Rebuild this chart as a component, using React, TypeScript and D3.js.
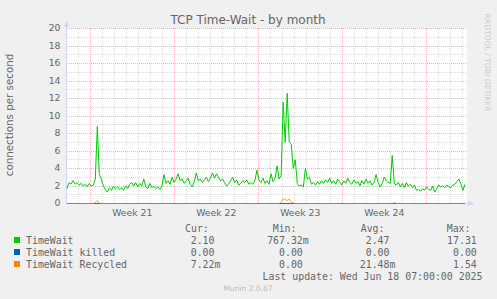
import React from "react";
import * as d3 from "d3";

const TITLE = "TCP Time-Wait - by month";
const Y_LABEL = "connections per second";
const WATERMARK = "RRDTOOL / TOBI OETIKER";
const FOOTER = "Munin 2.0.67";
const LAST_UPDATE = "Last update: Wed Jun 18 07:00:00 2025";

const START = Date.UTC(2025, 4, 17, 1, 24);
const SPAN_HOURS = 800;
const Y_MAX = 20;
const Y_TICKS = [0, 2, 4, 6, 8, 10, 12, 14, 16, 18, 20];

const timeWait = [
  1.7, 2.4, 2.2, 2.6, 2.2, 2.4, 2.1, 2.3, 2.0, 2.2,
  1.9, 2.3, 2.0, 2.1, 2.8, 8.8, 3.3, 2.8, 2.0, 1.6,
  1.3, 1.8, 1.5, 2.0, 1.7, 1.9, 1.6, 1.8, 1.5, 2.0,
  1.7, 2.2, 2.4, 2.0, 2.4, 1.9, 2.3, 2.0, 2.8, 1.9,
  1.7, 2.3, 1.8, 2.0, 1.7, 1.9, 1.6, 2.0, 3.3, 2.3,
  2.6, 2.2, 3.0, 2.4, 2.8, 3.4, 2.6, 2.8, 2.3, 2.6,
  2.9, 2.2, 1.9, 2.5, 3.5, 2.6, 2.8, 2.4, 2.7, 3.0,
  2.5, 2.9, 3.5, 2.9, 3.4, 3.0, 2.6, 2.8, 2.4, 2.0,
  2.2, 2.6, 3.0, 2.4, 2.7, 2.1, 2.3, 2.6, 2.4, 2.7,
  2.2, 2.4, 2.2, 2.6, 3.8, 2.7, 2.4, 2.9, 2.3, 2.6,
  2.2, 3.4, 2.5, 2.9, 4.3, 2.8, 3.2, 11.6, 7.0, 12.6,
  7.0, 6.8, 4.0, 5.0, 2.3, 2.0, 2.1, 1.9, 4.0, 2.8,
  3.0, 2.2, 2.4, 2.1, 2.5, 2.2, 2.6, 2.3, 2.7, 2.4,
  2.9, 2.3, 2.6, 2.2, 2.8, 2.5, 2.1, 2.6, 2.3, 2.9,
  2.4, 2.2, 2.7, 2.3, 2.5, 2.0, 2.6, 2.2, 2.8, 2.3,
  2.6, 2.1, 2.4, 3.3, 2.4, 1.9, 2.3, 3.0, 2.6, 2.4,
  2.3, 5.5, 2.3, 2.1, 2.4, 1.9, 2.3, 1.8, 2.4, 2.0,
  2.2, 1.8, 2.1, 1.5, 1.6, 1.4, 1.7, 1.5, 1.9, 1.6,
  1.5, 2.0, 1.3, 1.7, 2.1, 1.9, 2.0, 1.8, 2.1, 1.9,
  1.8, 2.1, 2.2, 2.5, 2.8, 2.2, 1.5, 2.2,
];

const timeWaitKilled = [
  0, 0, 0, 0, 0, 0, 0, 0, 0, 0, 0, 0, 0, 0, 0, 0, 0, 0, 0, 0,
  0, 0, 0, 0, 0, 0, 0, 0, 0, 0, 0, 0, 0, 0, 0, 0, 0, 0, 0, 0,
  0, 0, 0, 0, 0, 0, 0, 0, 0, 0, 0, 0, 0, 0, 0, 0, 0, 0, 0, 0,
  0, 0, 0, 0, 0, 0, 0, 0, 0, 0, 0, 0, 0, 0, 0, 0, 0, 0, 0, 0,
  0, 0, 0, 0, 0, 0, 0, 0, 0, 0, 0, 0, 0, 0, 0, 0, 0, 0, 0, 0,
  0, 0, 0, 0, 0, 0, 0, 0, 0, 0, 0, 0, 0, 0, 0, 0, 0, 0, 0, 0,
  0, 0, 0, 0, 0, 0, 0, 0, 0, 0, 0, 0, 0, 0, 0, 0, 0, 0, 0, 0,
  0, 0, 0, 0, 0, 0, 0, 0, 0, 0, 0, 0, 0, 0, 0, 0, 0, 0, 0, 0,
  0, 0, 0, 0, 0, 0, 0, 0, 0, 0, 0, 0, 0, 0, 0, 0, 0, 0, 0, 0,
  0, 0, 0, 0, 0, 0, 0, 0, 0, 0, 0, 0, 0, 0, 0, 0, 0, 0,
];

const timeWaitRecycled = [
  0, 0, 0, 0, 0, 0, 0, 0, 0, 0, 0, 0, 0, 0, 0.1, 0.35, 0.05, 0, 0, 0,
  0, 0, 0, 0, 0, 0, 0, 0, 0, 0, 0, 0, 0, 0, 0, 0, 0, 0, 0, 0,
  0, 0, 0, 0, 0, 0, 0, 0, 0, 0, 0, 0, 0, 0, 0, 0, 0, 0, 0, 0,
  0, 0, 0, 0, 0, 0, 0, 0, 0, 0, 0, 0, 0, 0, 0, 0, 0, 0, 0, 0,
  0, 0, 0, 0, 0, 0, 0, 0, 0, 0, 0, 0, 0, 0, 0, 0, 0, 0, 0, 0,
  0, 0, 0, 0, 0, 0, 0.2, 0.55, 0.45, 0.35, 0.5, 0.2, 0.05, 0, 0, 0, 0, 0, 0, 0,
  0, 0, 0, 0, 0, 0, 0, 0, 0, 0, 0, 0, 0, 0, 0, 0, 0, 0, 0, 0,
  0, 0, 0, 0, 0, 0, 0, 0, 0, 0, 0, 0, 0, 0, 0, 0, 0, 0, 0, 0,
  0, 0, 0.1, 0, 0, 0, 0, 0, 0, 0, 0, 0, 0, 0, 0, 0, 0, 0, 0, 0,
  0, 0, 0, 0, 0, 0, 0, 0, 0, 0, 0, 0, 0, 0, 0, 0, 0, 0,
];

const seriesNames = ["TimeWait", "TimeWait killed", "TimeWait Recycled"];
const seriesColors = ["#00CC00", "#0066B3", "#FF8000"];
const legendCur = [["2.10", ""], ["0.00", ""], ["7.22", "m"]];
const legendMin = [["767.32", "m"], ["0.00", ""], ["0.00", ""]];
const legendAvg = [["2.47", ""], ["0.00", ""], ["21.48", "m"]];
const legendMax = [["17.31", ""], ["0.00", ""], ["1.54", ""]];
const legendHeaders = ["Cur:", "Min:", "Avg:", "Max:"];

export default function App() {
  const W = 497, H = 299;
  const left = 67, right = 467, top = 28, bottom = 203;
  const end = START + SPAN_HOURS * 3600000;
  const x = d3.scaleUtc().domain([new Date(START), new Date(end)]).range([left, right]);
  const y = d3.scaleLinear().domain([0, Y_MAX]).range([bottom, top]);
  const yLine = d3.scaleLinear().domain([0, Y_MAX]).range([bottom + 0.5, top + 0.5]);
  const step = (end - START) / timeWait.length;
  const t = (i: number) => new Date(START + i * step);
  const line = d3.line<number>().x((_, i) => x(t(i))).y((d) => yLine(d));

  const days = d3.utcDay.range(new Date(START), new Date(end));
  const mondays = d3.utcMonday.range(new Date(START), new Date(end));
  const weekLabels = mondays
    .map((m) => new Date(m.getTime() + 3.5 * 86400000))
    .filter((c) => c.getTime() > START && c.getTime() < end);
  const fmtWeek = d3.utcFormat("%V");
  const minorY = d3.range(1, Y_MAX + 1).filter((v) => v % 2 === 1);
  const majorY = Y_TICKS.filter((v) => v > 0);

  const axisColor = "#CFD6F8";
  const minorColor = "#DCDCDC";
  const majorColor = "#F2B3BE";
  const font = "'DejaVu Sans', sans-serif";
  const mono = "'DejaVu Sans Mono', monospace";
  const textColor = "#666666";

  const colEnds = [214.5, 302.8, 389.5, 476.8];
  const colHeadX = [185, 272.7, 360.7, 446.7];
  const cols = [legendCur, legendMin, legendAvg, legendMax];
  const rowY = [243.5, 255.5, 267.5];

  return (
    <svg width={W} height={H} style={{ position: "absolute", left: 0, top: 0, display: "block" }}>
      <rect x={0} y={0} width={W} height={H} fill="#F0F0F0" />
      <rect x={left} y={top} width={right - left} height={bottom - top} fill="#FFFFFF" />
      <g shapeRendering="crispEdges" strokeDasharray="1,1">
        {minorY.map((v) => (
          <line key={"my" + v} x1={left} x2={right} y1={Math.round(y(v)) + 0.5} y2={Math.round(y(v)) + 0.5} stroke={minorColor} />
        ))}
        {days.filter((d) => d.getUTCDay() !== 1).map((d) => (
          <line key={"dx" + d.getTime()} x1={Math.round(x(d)) + 0.5} x2={Math.round(x(d)) + 0.5} y1={top} y2={bottom} stroke={minorColor} />
        ))}
        {majorY.map((v) => (
          <line key={"My" + v} x1={left} x2={right} y1={Math.round(y(v)) + 0.5} y2={Math.round(y(v)) + 0.5} stroke={majorColor} />
        ))}
        {mondays.map((d) => (
          <line key={"wx" + d.getTime()} x1={Math.round(x(d)) + 0.5} x2={Math.round(x(d)) + 0.5} y1={top} y2={bottom} stroke={majorColor} />
        ))}
      </g>
      {/* axes */}
      <line x1={66.5} x2={66.5} y1={bottom + 0.5} y2={24} stroke={axisColor} />
      <path d="M64,27 L69,27 L66.5,20.5 Z" fill={axisColor} />
      <line x1={66} x2={469} y1={bottom + 0.5} y2={bottom + 0.5} stroke={axisColor} />
      <path d="M468,201 L468,206 L474.5,203.5 Z" fill={axisColor} />
      {/* series */}
      <path d={line(timeWait) || ""} fill="none" stroke={seriesColors[0]} strokeWidth={1} />
      <path d={line(timeWaitKilled) || ""} fill="none" stroke={seriesColors[1]} strokeWidth={1} />
      <path d={line(timeWaitRecycled) || ""} fill="none" stroke={seriesColors[2]} strokeWidth={1} strokeOpacity={0.75} />
      {/* y ticks */}
      <g fontFamily={font} fontSize={9.3} fill={textColor} textAnchor="end">
        {Y_TICKS.map((v) => (
          <text key={"yt" + v} x={60.5} y={y(v) + 3.4}>{v}</text>
        ))}
      </g>
      {/* x labels */}
      <g fontFamily={font} fontSize={9.3} fill={textColor} textAnchor="middle">
        {weekLabels.map((c) => (
          <text key={"wl" + c.getTime()} x={x(c)} y={216}>{"Week " + fmtWeek(c)}</text>
        ))}
      </g>
      <text x={248} y={23.5} fontFamily={font} fontSize={12} fill={textColor} textAnchor="middle">{TITLE}</text>
      <text transform="translate(13,115) rotate(-90)" fontFamily={font} fontSize={10.3} fill={textColor} textAnchor="middle">{Y_LABEL}</text>
      <text transform="translate(485,62.5) rotate(90)" fontFamily={font} fontSize={7.6} fill="#CDCDCD" textAnchor="middle">{WATERMARK}</text>
      {/* legend */}
      <g fontFamily={mono} fontSize={9.9} fill={textColor}>
        {legendHeaders.map((h, j) => (
          <text key={"h" + j} x={colHeadX[j]} y={231.5}>{h}</text>
        ))}
        {seriesNames.map((n, i) => (
          <g key={"s" + i}>
            <rect x={14} y={rowY[i] - 6.5} width={6} height={6} fill={seriesColors[i]} />
            <text x={26} y={rowY[i]}>{n}</text>
            {cols.map((col, j) => (
              <g key={"c" + j}>
                <text x={colEnds[j]} y={rowY[i]} textAnchor="end">{col[i][0]}</text>
                {col[i][1] ? <text x={colEnds[j]} y={rowY[i]}>{col[i][1]}</text> : null}
              </g>
            ))}
          </g>
        ))}
        <text x={482.5} y={279.5} textAnchor="end">{LAST_UPDATE}</text>
      </g>
      <text x={248} y={290.7} fontFamily={font} fontSize={7.5} fill="#BBBBBB" textAnchor="middle">{FOOTER}</text>
    </svg>
  );
}
